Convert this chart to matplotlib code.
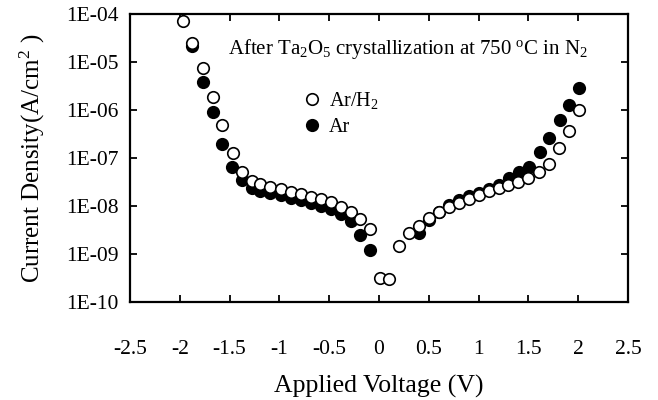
import matplotlib
matplotlib.use("Agg")
import matplotlib.pyplot as plt
from matplotlib.lines import Line2D

plt.rcParams['font.family'] = ['Liberation Serif', 'DejaVu Serif']
plt.rcParams['mathtext.fontset'] = 'custom'
plt.rcParams['mathtext.rm'] = 'Liberation Serif'
plt.rcParams['mathtext.it'] = 'Liberation Serif:italic'

# Ar/H2 (open circles)
v_arh2 = [-1.97, -1.88, -1.77, -1.67, -1.58, -1.47, -1.38, -1.28, -1.19, -1.09,
          -0.98, -0.88, -0.78, -0.68, -0.58, -0.48, -0.38, -0.28, -0.19, -0.09,
          0.01, 0.10, 0.20, 0.30, 0.40, 0.50, 0.60, 0.70, 0.80, 0.90,
          1.00, 1.10, 1.20, 1.30, 1.40, 1.50, 1.61, 1.71, 1.81, 1.91, 2.01]
j_arh2 = [7.0e-5, 2.5e-5, 7.4e-6, 1.9e-6, 4.9e-7, 1.26e-7, 5.1e-8, 3.3e-8, 2.9e-8, 2.5e-8,
          2.24e-8, 1.95e-8, 1.78e-8, 1.55e-8, 1.41e-8, 1.2e-8, 9.5e-9, 7.4e-9, 5.4e-9, 3.3e-9,
          3.2e-10, 3.0e-10, 1.48e-9, 2.75e-9, 3.8e-9, 5.6e-9, 7.4e-9, 9.5e-9, 1.15e-8, 1.41e-8,
          1.7e-8, 2.04e-8, 2.34e-8, 2.75e-8, 3.2e-8, 3.9e-8, 5.0e-8, 7.6e-8, 1.62e-7, 3.7e-7, 9.8e-7]

# Ar (filled circles)
v_ar = [-1.88, -1.77, -1.67, -1.58, -1.48, -1.38, -1.28, -1.19, -1.09, -0.98,
        -0.88, -0.78, -0.68, -0.58, -0.48, -0.38, -0.28, -0.19, -0.09,
        0.40, 0.50, 0.60, 0.70, 0.80, 0.90, 1.00, 1.10, 1.20, 1.31,
        1.41, 1.51, 1.62, 1.71, 1.82, 1.91, 2.01]
j_ar = [2.2e-5, 3.8e-6, 9.1e-7, 2.0e-7, 6.5e-8, 3.5e-8, 2.4e-8, 2.1e-8, 1.86e-8, 1.7e-8,
        1.5e-8, 1.35e-8, 1.17e-8, 1.02e-8, 8.7e-9, 6.8e-9, 4.8e-9, 2.5e-9, 1.2e-9,
        2.8e-9, 5.0e-9, 7.6e-9, 1.05e-8, 1.32e-8, 1.58e-8, 1.9e-8, 2.3e-8, 2.75e-8, 3.8e-8,
        5.0e-8, 6.5e-8, 1.32e-7, 2.6e-7, 6.2e-7, 1.26e-6, 2.9e-6]

x_ticks = [-2.5, -2, -1.5, -1, -0.5, 0, 0.5, 1, 1.5, 2, 2.5]
x_ticklabels = ['-2.5', '-2', '-1.5', '-1', '-0.5', '0', '0.5', '1', '1.5', '2', '2.5']
y_ticks = [1e-10, 1e-9, 1e-8, 1e-7, 1e-6, 1e-5, 1e-4]
y_ticklabels = ['1E-10', '1E-09', '1E-08', '1E-07', '1E-06', '1E-05', '1E-04']

fig = plt.figure(figsize=(6.58, 4.0), dpi=100)
ax = fig.add_axes([130/658, 1 - 302/400, (628-130)/658, (302-14)/400])

ms = 8.3
ax.plot(v_ar, j_ar, linestyle='none', marker='o', markersize=ms,
        markerfacecolor='black', markeredgecolor='black', markeredgewidth=1.2, zorder=3)
ax.plot(v_arh2, j_arh2, linestyle='none', marker='o', markersize=ms,
        markerfacecolor='white', markeredgecolor='black', markeredgewidth=1.2, zorder=4)

ax.set_yscale('log')
ax.set_xlim(-2.5, 2.5)
ax.set_ylim(1e-10, 1e-4)
ax.set_xticks(x_ticks)
ax.set_xticklabels(x_ticklabels)
ax.set_yticks(y_ticks)
ax.set_yticklabels(y_ticklabels)
ax.minorticks_off()
ax.tick_params(axis='both', which='major', direction='in', length=5, width=1.3,
               top=True, right=True, labelsize=15.5)
ax.tick_params(axis='x', pad=27)
ax.tick_params(axis='y', pad=8)
for s in ax.spines.values():
    s.set_linewidth(1.6)

ax.set_xlabel('Applied Voltage (V)', fontsize=18.5, labelpad=12)
ax.set_ylabel('Current Density(A/cm$^2$ )', fontsize=18, labelpad=14)

ax.text(0.197, 0.878, 'After Ta$_2$O$_5$ crystallization at 750 $^{\\mathrm{o}}$C in N$_2$',
        transform=ax.transAxes, fontsize=15, ha='left', va='center')

handles = [Line2D([], [], linestyle='none', marker='o', markersize=ms, markerfacecolor='white',
                  markeredgecolor='black', markeredgewidth=1.2),
           Line2D([], [], linestyle='none', marker='o', markersize=ms, markerfacecolor='black',
                  markeredgecolor='black', markeredgewidth=1.2)]
ax.legend(handles, ['Ar/H$_2$', 'Ar'], loc='upper left', bbox_to_anchor=(0.328, 0.77),
          frameon=False, fontsize=14.5, handletextpad=0.35, labelspacing=0.35,
          borderpad=0, handlelength=0.9)

fig.savefig('out.png', dpi=100)
